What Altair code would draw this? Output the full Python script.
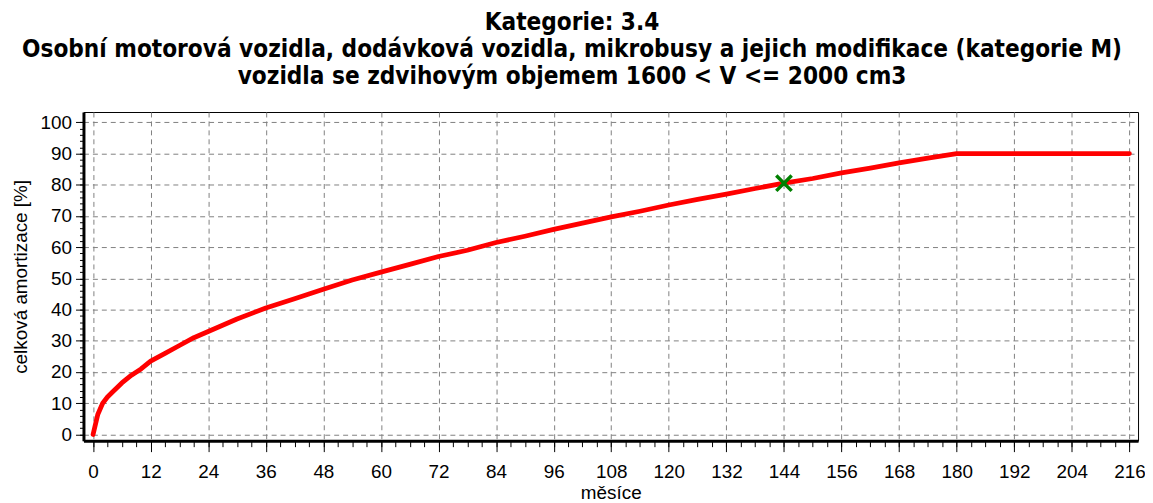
import altair as alt
import pandas as pd

# --- data ---
months = [0, 1, 2, 3, 4, 6, 8, 10, 12, 15, 18, 21, 24, 30, 36, 42, 48, 54, 60, 66,
          72, 78, 84, 90, 96, 102, 108, 114, 120, 126, 132, 138, 144, 150, 156, 162,
          168, 174, 180, 216]
amort = [0, 6.5, 10, 12, 13.5, 16.5, 19, 21, 23.5, 26, 28.5, 31, 33, 37, 40.5, 43.5,
         46.5, 49.5, 52, 54.5, 57, 59, 61.5, 63.5, 65.7, 67.7, 69.7, 71.5, 73.5, 75.3,
         77, 78.8, 80.5, 82, 83.8, 85.3, 87, 88.5, 90, 90]
marker_month = [144]
marker_value = [80.5]

x_major = list(range(0, 217, 12))
x_minor = list(range(0, 217, 3))
y_major = list(range(0, 101, 10))
y_minor = list(range(0, 101, 2))

title_lines = [
    "Kategorie: 3.4",
    "Osobní motorová vozidla, dodávková vozidla, mikrobusy a jejich modifikace (kategorie M)",
    "vozidla se zdvihovým objemem 1600 < V <= 2000 cm3",
]
x_title = "měsíce"
y_title = "celková amortizace [%]"

curve = pd.DataFrame({"m": months, "v": amort})
mark_df = pd.DataFrame({"m": marker_month, "v": marker_value})

FONT = "Liberation Sans, Arial, sans-serif"
TFONT = "Liberation Sans Narrow, Arial Narrow, DejaVu Sans Condensed, sans-serif"

xs = alt.Scale(domain=[-2, 217.8], nice=False, zero=False)
ys = alt.Scale(domain=[-2, 103.3], nice=False, zero=False)

x_axis_main = alt.Axis(
    values=x_major, title=x_title, orient="bottom", grid=True,
    gridColor="#808080", gridDash=[5, 4], gridWidth=1,
    domainColor="black", domainWidth=3, tickColor="black", tickSize=11, tickWidth=1,
    labelFont=FONT, labelFontSize=19, labelColor="black", labelPadding=11,
    titleFont=FONT, titleFontSize=19, titleFontWeight="normal", titleColor="black",
    titlePadding=2,
)
y_axis_main = alt.Axis(
    values=y_major, title=y_title, orient="left", grid=True,
    gridColor="#808080", gridDash=[5, 4], gridWidth=1,
    domainColor="black", domainWidth=3, tickColor="black", tickSize=8, tickWidth=1,
    labelFont=FONT, labelFontSize=19, labelColor="black", labelPadding=4,
    titleFont=FONT, titleFontSize=19, titleFontWeight="normal", titleColor="black",
    titlePadding=10,
)
x_axis_minor = alt.Axis(
    values=x_minor, title=None, orient="bottom", grid=False, labels=False,
    domain=False, tickColor="black", tickSize=6, tickWidth=1,
)
y_axis_minor = alt.Axis(
    values=y_minor, title=None, orient="left", grid=False, labels=False,
    domain=False, tickColor="black", tickSize=4, tickWidth=1,
)

line = alt.Chart(curve).mark_line(color="#ff0000", strokeWidth=4.8, strokeCap="round",
                                  strokeJoin="round").encode(
    x=alt.X("m:Q", scale=xs, axis=x_axis_main),
    y=alt.Y("v:Q", scale=ys, axis=y_axis_main),
)

point = alt.Chart(mark_df).mark_point(
    shape="M-1,-1L1,1M-1,1L1,-1", size=240, filled=False, color="#008000",
    strokeWidth=3.5, opacity=1,
).encode(
    x=alt.X("m:Q", scale=xs, axis=x_axis_minor),
    y=alt.Y("v:Q", scale=ys, axis=y_axis_minor),
)

chart = alt.layer(line, point).resolve_axis(x="independent", y="independent").properties(
    width=1062, height=331,
    autosize=alt.AutoSizeParams(type="none"),
    padding={"left": 76, "top": 103, "right": 7, "bottom": 62},
    background="white",
    title=alt.TitleParams(
        text=title_lines, anchor="middle", font=TFONT, fontSize=24.3,
        fontWeight="bold", color="black", lineHeight=27, baseline="alphabetic",
        offset=4, dx=-39,
    ),
).configure_view(stroke="black", strokeWidth=1)

chart.save("out.html", embed_options={"renderer": "svg", "actions": False})
